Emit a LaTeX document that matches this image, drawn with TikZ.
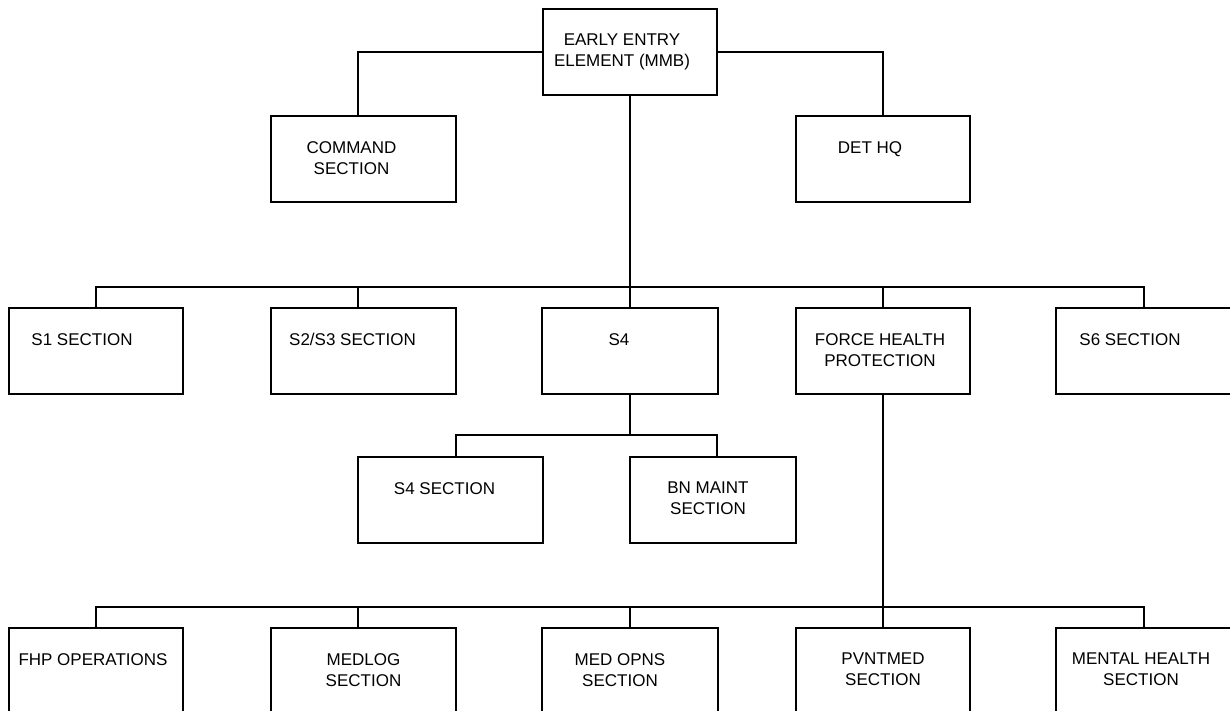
\documentclass[tikz,border=0pt]{standalone}
\usepackage{fontspec}
\setmainfont{Liberation Sans}
\usepackage{tikz}
\def\BoxW{174pt}
\def\BoxH{86pt}
\tikzset{
  unit/.style={draw, line width=2pt, minimum width=\BoxW, minimum height=\BoxH, inner sep=0pt},
  txt/.style={anchor=north, yshift=-26pt, inner sep=0pt, align=center, font=\fontsize{17}{21}\selectfont},
  link/.style={line width=2pt},
}

\begin{document}
\begin{tikzpicture}[x=1pt, y=-1pt]
			\useasboundingbox (0,0) rectangle (1230,711);
			% top of the chart
			\node[unit, label={[txt, xshift=-8pt]north:EARLY ENTRY\\ELEMENT (MMB)}] (eee) at (630,52) {};
			\node[unit, minimum width=185pt, label={[txt, xshift=-12pt]north:COMMAND\\SECTION}] (cmd) at (363.5,159) {};
			\node[unit, label={[txt, xshift=-13pt]north:DET HQ}] (dethq) at (883,159) {};
			% sections
			\node[unit, label={[txt, xshift=-14pt]north:S1 SECTION}] (s1) at (96,351) {};
			\node[unit, minimum width=185pt, label={[txt, xshift=-11pt]north:S2/S3 SECTION}] (s23) at (363.5,351) {};
			\node[unit, minimum width=176pt, label={[txt, xshift=-11pt]north:S4}] (s4) at (630,351) {};
			\node[unit, label={[txt, xshift=-3pt]north:FORCE HEALTH\\PROTECTION}] (fhp) at (883,351) {};
			\node[unit, minimum width=176pt, label={[txt, xshift=-14pt]north:S6 SECTION}] (s6) at (1144,351) {};
			% under S4
			\node[unit, minimum width=185pt, label={[txt, xshift=-6pt]north:S4 SECTION}] (s4sec) at (450.5,500) {};
			\node[unit, minimum width=166pt, label={[txt, xshift=-5pt]north:BN MAINT\\SECTION}] (bnm) at (713,500) {};
			% under force health protection
			\node[unit, label={[txt, xshift=-3pt]north:FHP OPERATIONS}] (fops) at (96,671) {};
			\node[unit, minimum width=185pt, label={[txt]north:MEDLOG\\SECTION}] (medlog) at (363.5,671) {};
			\node[unit, minimum width=176pt, label={[txt, xshift=-10pt]north:MED OPNS\\SECTION}] (medops) at (630,671) {};
			\node[unit, label={[txt]north:PVNTMED\\SECTION}] (pvnt) at (883,671) {};
			\node[unit, minimum width=176pt, label={[txt, xshift=-3pt]north:MENTAL HEALTH\\SECTION}] (mental) at (1144,671) {};
			\coordinate (busA) at (0,287);
			\coordinate (busB) at (0,435);
			\coordinate (busC) at (0,607);
			% lines
			\draw[link] (eee.west) -| ([xshift=-5.5pt]cmd.north);
			\draw[link] (eee.east) -| (dethq.north);
			\draw[link] (eee.south) -- (s4.north);
			\draw[link] (s1.north) |- (busA -| s6.north) -- (s6.north);
			\draw[link] ([xshift=-5.5pt]s23.north) -- ([xshift=-5.5pt]s23.north |- busA);
			\draw[link] (fhp.north) -- (fhp.north |- busA);
			\draw[link] (s4.south) -- (s4.south |- busB);
			\draw[link] ([xshift=5.5pt]s4sec.north) |- ([xshift=4pt]bnm.north |- busB) -- ([xshift=4pt]bnm.north);
			\draw[link] (fhp.south) -- (pvnt.north);
			\draw[link] (fops.north) |- (busC -| mental.north) -- (mental.north);
			\draw[link] ([xshift=-5.5pt]medlog.north) -- ([xshift=-5.5pt]medlog.north |- busC);
			\draw[link] (medops.north) -- (medops.north |- busC);
		\end{tikzpicture}
\end{document}
